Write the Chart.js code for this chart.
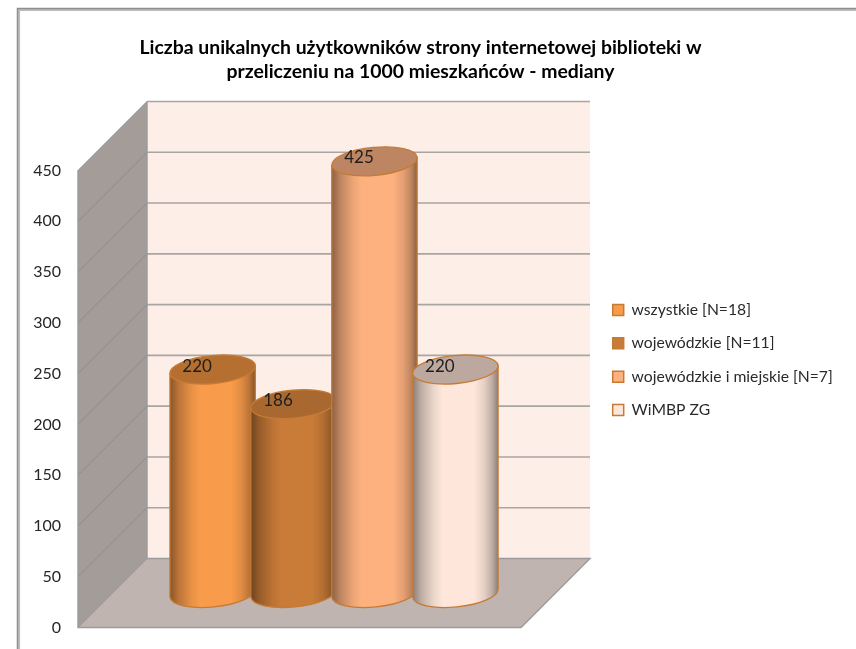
<!DOCTYPE html>
<html lang="pl"><head><meta charset="utf-8">
<style>html,body{margin:0;padding:0;background:#fff}canvas{display:block}</style>
<script src="https://cdn.jsdelivr.net/npm/chart.js@4/dist/chart.umd.min.js"></script>
</head><body><canvas id="c" width="856" height="649"></canvas>
<script>
const categories = [''];
const titleLines = ['Liczba unikalnych użytkowników strony internetowej biblioteki w','przeliczeniu na 1000 mieszkańców - mediany'];
const seriesNames = ['wszystkie [N=18]','wojewódzkie [N=11]','wojewódzkie i miejskie [N=7]','WiMBP ZG'];
const wszystkie = [220];
const wojewodzkie = [186];
const wojewodzkieMiejskie = [425];
const wimbp = [220];
const tickMax = 450, tickStep = 50;

const fills = ['#F89B4A','#C97B38','#FDB17F','#FEE6DA'];
const tops = ['#B56F31','#A96830','#BD8562','#BCA89E'];
const edge = '#C67B35';
const DEPTH = 69, FONT = 'Lato, Carlito, sans-serif';

function shade(hex,f){const n=parseInt(hex.slice(1),16);
  return `rgb(${Math.round((n>>16&255)*f)},${Math.round((n>>8&255)*f)},${Math.round((n&255)*f)})`;}

class CylinderElement extends Chart.BarElement {
  // Chart.js paints datasets last-to-first; the cylinders must overlap
  // left-to-right, so the scene plugin calls paint() in series order.
  draw(){}
  paint(ctx){
    const {x,y,base,width}=this.getProps(['x','y','base','width'],true);
    const o=this.options, off=DEPTH/2, a=width*0.53, b=14, rot=-5.5*Math.PI/180;
    const cx=x+off, ty=y-off, by=base-off;
    const dx=a*Math.cos(rot), dy=a*Math.sin(rot);
    const g=ctx.createLinearGradient(cx-dx,0,cx+dx,0);
    g.addColorStop(0,shade(o.backgroundColor,.55));
    g.addColorStop(.1,shade(o.backgroundColor,.75));
    g.addColorStop(.25,shade(o.backgroundColor,.93));
    g.addColorStop(.35,shade(o.backgroundColor,1));
    g.addColorStop(.72,shade(o.backgroundColor,1));
    g.addColorStop(.84,shade(o.backgroundColor,.9));
    g.addColorStop(.93,shade(o.backgroundColor,.75));
    g.addColorStop(1,shade(o.backgroundColor,.55));
    ctx.save();
    ctx.beginPath();
    ctx.moveTo(cx-dx,ty-dy);
    ctx.lineTo(cx+dx,ty+dy);
    ctx.lineTo(cx+dx,by+dy);
    ctx.ellipse(cx,by,a,b,rot,0,Math.PI,false);
    ctx.closePath();
    ctx.fillStyle=g; ctx.fill();
    ctx.strokeStyle=o.borderColor; ctx.lineWidth=1.3; ctx.stroke();
    ctx.beginPath();
    ctx.ellipse(cx,ty,a,b,rot,0,Math.PI*2);
    ctx.fillStyle=tops[this.$series]; ctx.fill();
    ctx.strokeStyle=o.borderColor; ctx.stroke();
    ctx.restore();
  }
}
CylinderElement.id='cylinder';
CylinderElement.defaults={...Chart.BarElement.defaults};
CylinderElement.defaultRoutes=Chart.BarElement.defaultRoutes;

class CylinderController extends Chart.BarController {
  updateElements(bars,start,count,mode){
    super.updateElements(bars,start,count,mode);
    bars.forEach(b=>{b.$series=this.index;});
  }
}
CylinderController.id='cylinder';
CylinderController.defaults={...Chart.BarController.defaults,dataElementType:'cylinder'};
CylinderController.overrides=Chart.BarController.overrides;
Chart.register(CylinderElement,CylinderController);

const scene = {
  id:'scene',
  beforeLayout(chart){
    const l=chart.legend;
    if(!l.$patched){
      const fit=l.fit;
      l.fit=function(){ fit.call(this); this.width=335; };
      l.$patched=true;
    }
  },
  afterLayout(chart){
    const l=chart.legend, t=chart.titleBlock;
    l.left=595; l.right=856; l.top=240; l.bottom=480;
    t.left=0; t.right=841;
  },
  beforeDraw(chart){
    const c=chart.ctx;
    c.save();
    c.fillStyle='#fff'; c.fillRect(0,0,chart.width,chart.height);
    c.strokeStyle='#BDBDBD'; c.lineWidth=3.2;
    c.beginPath(); c.moveTo(18.5,649); c.lineTo(18.5,9.5); c.lineTo(856,9.5); c.stroke();
    c.strokeStyle='#8E8E8E'; c.lineWidth=1.4;
    c.beginPath(); c.moveTo(17.5,649); c.lineTo(17.5,8.5); c.lineTo(856,8.5); c.stroke();
    c.restore();
  },
  beforeDatasetsDraw(chart){
    const c=chart.ctx, ys=chart.scales.y, A=chart.chartArea;
    const L=A.left,R=A.right,B=ys.getPixelForValue(0),T=ys.getPixelForValue(tickMax),d=DEPTH;
    c.save();
    const poly=(pts,fill)=>{c.beginPath();pts.forEach((p,i)=>i?c.lineTo(p[0],p[1]):c.moveTo(p[0],p[1]));c.closePath();
      c.fillStyle=fill;c.fill();};
    poly([[L+d,T-d],[R+d,T-d],[R+d,B-d],[L+d,B-d]],'#FDEEE7');
    poly([[L,T],[L+d,T-d],[L+d,B-d],[L,B]],'#A39C98');
    poly([[L,B],[L+d,B-d],[R+d,B-d],[R,B]],'#BFB4B0');
    ys.ticks.forEach(t=>{
      const y=ys.getPixelForValue(t.value);
      if(t.value>0){
        c.strokeStyle='#A9A5A3';c.lineWidth=1.6;
        c.beginPath();c.moveTo(L+d,y-d);c.lineTo(R+d,y-d);c.stroke();
      }
      c.strokeStyle='#8F8C8A';c.lineWidth=1;
      c.beginPath();c.moveTo(L,y);c.lineTo(L+d,y-d);c.stroke();
    });
    c.strokeStyle='#9B9B9B';c.lineWidth=1.4;
    c.beginPath();
    c.moveTo(L,T);c.lineTo(L,B);c.lineTo(R,B);c.lineTo(R+d,B-d);c.lineTo(L+d,B-d);
    c.moveTo(L+d,T-d);c.lineTo(L+d,B-d);
    c.stroke();
    c.restore();
  },
  afterDatasetsDraw(chart){
    const c=chart.ctx;
    chart.data.datasets.forEach((ds,i)=>chart.getDatasetMeta(i).data.forEach(el=>el.paint(c)));
    c.save();
    c.font=`17px ${FONT}`;c.fillStyle='#1E1E1E';c.textAlign='center';c.textBaseline='middle';
    chart.data.datasets.forEach((ds,i)=>{
      const el=chart.getDatasetMeta(i).data[0];
      c.fillText(String(ds.data[0]),el.x+DEPTH/2-15.5,el.y-DEPTH/2-3.5);
    });
    c.restore();
  }
};

const seriesValues=[wszystkie,wojewodzkie,wojewodzkieMiejskie,wimbp];
new Chart(document.getElementById('c'),{
  type:'cylinder',
  data:{labels:categories,datasets:seriesNames.map((n,i)=>({
    label:n,data:seriesValues[i],backgroundColor:fills[i],borderColor:edge,borderWidth:1.5,
    categoryPercentage:.7306,barPercentage:1,grouped:true,clip:false
  }))},
  plugins:[scene],
  options:{
    responsive:false,animation:false,
    layout:{padding:{left:20,right:0,top:0,bottom:21.5}},
    plugins:{
      title:{display:true,text:titleLines,color:'#000',font:{family:FONT,size:19.4,weight:'bold',lineHeight:1.237},padding:{top:36,bottom:86.5}},
      legend:{position:'right',align:'center',labels:{
        boxWidth:11,boxHeight:11,padding:17.7,color:'#2A2A2A',font:{family:FONT,size:15.7}}},
      tooltip:{enabled:false}
    },
    scales:{
      x:{display:false,grid:{display:false}},
      y:{min:0,max:tickMax,grid:{display:false,drawTicks:true,tickLength:15},border:{display:false},
        afterFit(s){s.width=58;},
        ticks:{stepSize:tickStep,padding:2,color:'#262626',font:{family:FONT,size:16}}}
    }
  }
});
</script></body></html>
